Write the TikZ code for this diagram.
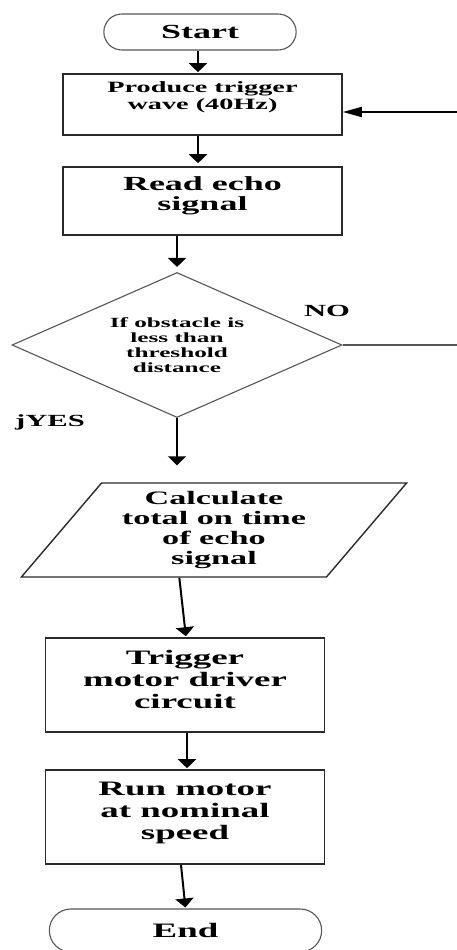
\documentclass[tikz,border=0pt]{standalone}
\usepackage{fontspec}
\setmainfont{Liberation Serif}[FakeStretch=1.8]
\usepackage{xcolor}
\usetikzlibrary{shapes.geometric, shapes.misc, arrows.meta, positioning, calc}
\definecolor{EdgeGrey}{HTML}{555555}
\definecolor{BoxBlack}{HTML}{2A2A2A}

\begin{document}
\begin{tikzpicture}[x=1pt, y=-1pt,
    term/.style={draw=EdgeGrey, line width=1.1pt, rounded rectangle, align=center,
        font=\bfseries\fontsize{20}{22}\selectfont},
    box/.style={draw=BoxBlack, line width=1.6pt, rectangle, minimum width=279pt, align=center,
        font=\bfseries\fontsize{20.5}{22}\selectfont},
    decide/.style={draw=EdgeGrey, line width=1.1pt, diamond, aspect=2.27, inner sep=0pt,
        minimum width=330pt, minimum height=145pt, align=center,
        font=\bfseries\fontsize{14}{15}\selectfont},
    inout/.style={draw=BoxBlack, line width=1.4pt, trapezium, trapezium left angle=51,
        trapezium right angle=129, trapezium stretches=true, align=center,
        font=\bfseries\fontsize{19}{20}\selectfont},
    tag/.style={font=\bfseries\fontsize{17}{18}\selectfont},
    flow/.style={line width=2pt, -{Triangle[width=18pt,length=9pt]}, shorten >=1pt},
    back/.style={line width=1.8pt, -{Triangle[width=10pt,length=19pt]}}]
    \useasboundingbox (0,0) rectangle (456,950);

    % top part
    \node [term, minimum width=199pt, minimum height=36pt] (start) at (200,32) {Start};
    \node [box, minimum height=61pt, text depth=17pt, font=\bfseries\fontsize{15.7}{17}\selectfont] (prod) at (202.5,104.5) {Produce trigger\\wave (40Hz)};
    \node [box, minimum height=68pt, text depth=15pt, font=\bfseries\fontsize{20}{20}\selectfont] (read) at (202.5,201) {Read echo\\signal};
    \node [decide] (dec) at (177,345) {If obstacle is\\less than\\threshold\\distance};
    \node [tag] (no) at (327,311) {NO};
    \node [tag] (yes) at (50,422) {jYES};

    % lower part
    \node [inout, minimum width=386pt, minimum height=94pt] (calc) at (214,530) {Calculate\\total on time\\of echo\\signal};
    \node [box, minimum height=94pt, text depth=12pt] (trig) at (185,685) {Trigger\\motor driver\\circuit};
    \node [box, minimum height=94pt, text depth=12pt] (run) at (185,817) {Run motor\\at nominal\\speed};
    \node [term, minimum width=279pt, minimum height=43pt, font=\bfseries\fontsize{20.5}{22}\selectfont] (end) at (185.5,930.5) {End};

    % loop back corners (right of the page)
    \coordinate (noright) at (470,345);
    \coordinate (backin) at (470,112);

    \draw [flow] (start.south -| 198,0) -- (prod.north -| 198,0);
    \draw [flow, shorten >=3pt] (prod.south -| 198,0) -- (read.north -| 198,0);
    \draw [flow, shorten >=5pt] (read.south -| dec.north) -- (dec.north);
    \draw [flow, shorten >=17pt] (dec.south) -- (dec.south |- calc.north);
    \draw [flow] ($(calc.bottom side)+(6,0)$) -- ($(trig.north)+(1,0)$);
    \draw [flow] ($(trig.south)+(2,0)$) -- ($(run.north)+(2,0)$);
    \draw [flow] ($(run.south)+(-4,0)$) -- (end.north);

    \draw [EdgeGrey, line width=1.1pt] (dec.east) -- (noright) -- (backin);
    \draw [back] (backin) -- (backin -| prod.east);
\end{tikzpicture}
\end{document}
